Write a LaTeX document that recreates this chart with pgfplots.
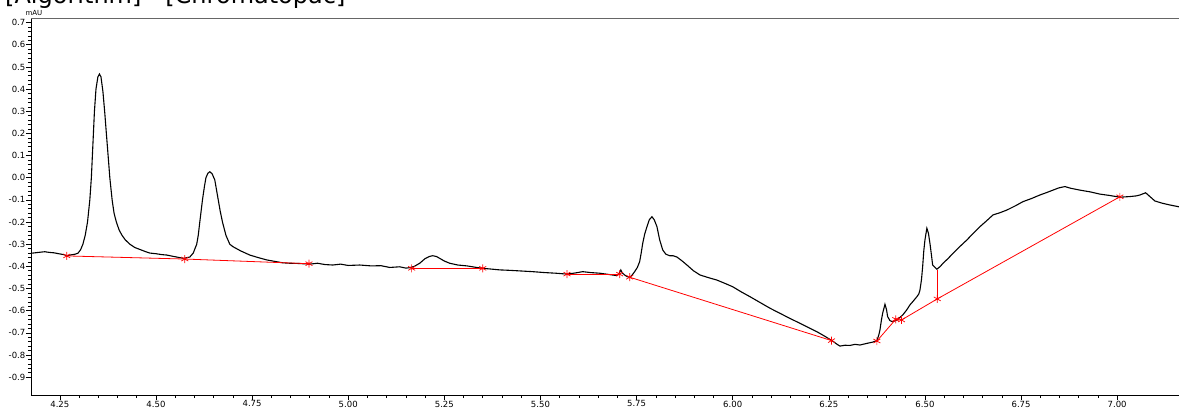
\documentclass[border=0pt]{standalone}
\usepackage{pgfplots}
\pgfplotsset{compat=1.18}
\usepackage{fontspec}
\setmainfont{DejaVu Sans}

\begin{document}
\begin{tikzpicture}[x=1pt,y=1pt]
\begin{axis}[
  at={(31pt,13pt)}, anchor=south west,
  scale only axis, width=1153.5pt, height=377pt,
  xmin=4.175, xmax=7.175, ymin=-0.9806, ymax=0.7207,
  axis lines*=left,
  axis line style={black, line width=0.8pt},
  xtick={4.25,4.50,4.75,5.00,5.25,5.50,5.75,6.00,6.25,6.50,6.75,7.00},
  ytick={-0.9,-0.8,-0.7,-0.6,-0.5,-0.4,-0.3,-0.2,-0.1,0.0,0.1,0.2,0.3,0.4,0.5,0.6,0.7},
  minor x tick num=4, minor y tick num=4,
  tick align=outside,
  major tick length=5pt, minor tick length=3pt,
  every tick/.style={black, line width=0.6pt},
  xticklabel style={/pgf/number format/.cd, fixed, fixed zerofill, precision=2, assume math mode=true},
  yticklabel style={/pgf/number format/.cd, fixed, fixed zerofill, precision=1, assume math mode=true},
  ticklabel style={font=\fontsize{8.5}{9}\selectfont, inner sep=0.5pt},
  clip=true,
]
\draw[gray!80!black, line width=2pt] (rel axis cs:0,1) -- (rel axis cs:1,1);
\addplot[black, line width=1.1pt] coordinates {
(4.175,-0.341) (4.190,-0.338) (4.200,-0.336) (4.211,-0.334) (4.222,-0.337) (4.235,-0.339)
(4.250,-0.344) (4.260,-0.347) (4.268,-0.352) (4.280,-0.348) (4.290,-0.345) (4.297,-0.341)
(4.304,-0.325) (4.310,-0.300) (4.316,-0.260) (4.322,-0.200) (4.328,-0.100) (4.332,0.000)
(4.336,0.150) (4.340,0.300) (4.344,0.400) (4.349,0.455) (4.353,0.468) (4.357,0.455)
(4.362,0.390) (4.367,0.290) (4.371,0.200) (4.376,0.090) (4.380,0.000) (4.386,-0.100)
(4.391,-0.160) (4.397,-0.200) (4.404,-0.235) (4.411,-0.258) (4.420,-0.280) (4.432,-0.300)
(4.445,-0.315) (4.460,-0.325) (4.472,-0.333) (4.484,-0.340) (4.500,-0.343) (4.515,-0.347)
(4.528,-0.349) (4.545,-0.355) (4.560,-0.360) (4.572,-0.364) (4.588,-0.358) (4.597,-0.340)
(4.606,-0.300) (4.610,-0.260) (4.614,-0.200) (4.621,-0.100) (4.626,-0.040) (4.630,0.000)
(4.635,0.020) (4.640,0.027) (4.646,0.018) (4.653,-0.010) (4.657,-0.050) (4.662,-0.100)
(4.667,-0.150) (4.673,-0.200) (4.682,-0.260) (4.692,-0.300) (4.700,-0.311) (4.720,-0.330)
(4.744,-0.349) (4.765,-0.360) (4.788,-0.371) (4.810,-0.378) (4.830,-0.384) (4.848,-0.386)
(4.870,-0.387) (4.900,-0.390) (4.920,-0.386) (4.940,-0.392) (4.960,-0.394) (4.980,-0.390)
(5.000,-0.396) (5.030,-0.394) (5.060,-0.398) (5.085,-0.397) (5.108,-0.405) (5.134,-0.402)
(5.150,-0.408) (5.160,-0.406) (5.172,-0.400) (5.186,-0.386) (5.200,-0.365) (5.212,-0.355)
(5.220,-0.352) (5.230,-0.356) (5.238,-0.364) (5.250,-0.376) (5.264,-0.386) (5.285,-0.394)
(5.309,-0.398) (5.330,-0.404) (5.350,-0.409) (5.370,-0.412) (5.394,-0.416) (5.420,-0.418)
(5.450,-0.421) (5.480,-0.424) (5.510,-0.428) (5.540,-0.431) (5.569,-0.435) (5.590,-0.430)
(5.610,-0.424) (5.630,-0.428) (5.654,-0.431) (5.675,-0.436) (5.699,-0.442) (5.705,-0.430)
(5.709,-0.416) (5.713,-0.430) (5.719,-0.439) (5.725,-0.446) (5.732,-0.450) (5.738,-0.440)
(5.745,-0.424) (5.752,-0.405) (5.758,-0.379) (5.762,-0.340) (5.766,-0.296) (5.771,-0.255)
(5.777,-0.221) (5.783,-0.190) (5.790,-0.176) (5.796,-0.190) (5.803,-0.221) (5.810,-0.280)
(5.818,-0.326) (5.826,-0.345) (5.836,-0.352) (5.845,-0.352) (5.855,-0.358) (5.868,-0.375)
(5.881,-0.394) (5.898,-0.420) (5.915,-0.439) (5.937,-0.451) (5.959,-0.462) (5.980,-0.477)
(6.000,-0.492) (6.022,-0.515) (6.045,-0.537) (6.070,-0.562) (6.097,-0.589) (6.123,-0.612)
(6.150,-0.636) (6.175,-0.657) (6.197,-0.676) (6.219,-0.695) (6.240,-0.716) (6.260,-0.737)
(6.270,-0.750) (6.279,-0.760) (6.292,-0.756) (6.305,-0.757) (6.318,-0.752) (6.331,-0.755)
(6.348,-0.748) (6.364,-0.742) (6.375,-0.735) (6.380,-0.710) (6.383,-0.687) (6.387,-0.640)
(6.390,-0.612) (6.396,-0.571) (6.400,-0.595) (6.403,-0.627) (6.409,-0.645) (6.416,-0.650)
(6.427,-0.642) (6.442,-0.620) (6.452,-0.598) (6.461,-0.574) (6.470,-0.556) (6.479,-0.537)
(6.484,-0.525) (6.487,-0.507) (6.491,-0.460) (6.494,-0.402) (6.497,-0.330) (6.500,-0.281)
(6.505,-0.228) (6.509,-0.250) (6.513,-0.296) (6.517,-0.350) (6.520,-0.394) (6.531,-0.413)
(6.540,-0.400) (6.547,-0.386) (6.560,-0.365) (6.573,-0.341) (6.590,-0.312) (6.609,-0.281)
(6.625,-0.252) (6.643,-0.221) (6.660,-0.195) (6.677,-0.168) (6.695,-0.158) (6.713,-0.146)
(6.735,-0.127) (6.755,-0.108) (6.777,-0.094) (6.799,-0.078) (6.815,-0.068) (6.833,-0.056)
(6.848,-0.046) (6.864,-0.040) (6.880,-0.048) (6.903,-0.056) (6.930,-0.064) (6.955,-0.074)
(6.980,-0.080) (7.007,-0.088) (7.033,-0.085) (7.050,-0.082) (7.059,-0.078) (7.074,-0.068)
(7.085,-0.085) (7.098,-0.105) (7.117,-0.115) (7.137,-0.123) (7.160,-0.131) (7.175,-0.133)
};
\pgfplotsset{rline/.style={red, line width=0.8pt, mark=asterisk, mark size=4pt, mark options={red, line width=0.7pt}}}
\addplot[rline] coordinates {(4.268,-0.353) (4.575,-0.367) (4.898,-0.388)};
\addplot[rline] coordinates {(5.165,-0.409) (5.350,-0.409)};
\addplot[rline] coordinates {(5.569,-0.435) (5.706,-0.435)};
\addplot[rline] coordinates {(5.732,-0.449) (6.257,-0.735)};
\addplot[rline] coordinates {(6.375,-0.737) (6.424,-0.639) (6.439,-0.642) (6.532,-0.547) (7.007,-0.086)};
\addplot[red, line width=1.2pt] coordinates {(6.532,-0.547) (6.532,-0.418)};
\end{axis}
\node[anchor=south, font=\fontsize{7}{8}\selectfont, inner sep=0pt] at (34pt,392pt) {mAU};
\node[anchor=base west, inner sep=0pt, font=\fontsize{24}{28}\selectfont] at (5pt,404pt) {[Algorithm] - [Chromatopac]};
\pgfresetboundingbox
\path[use as bounding box] (0,0) rectangle (1179pt,408pt);
\end{tikzpicture}
\end{document}
